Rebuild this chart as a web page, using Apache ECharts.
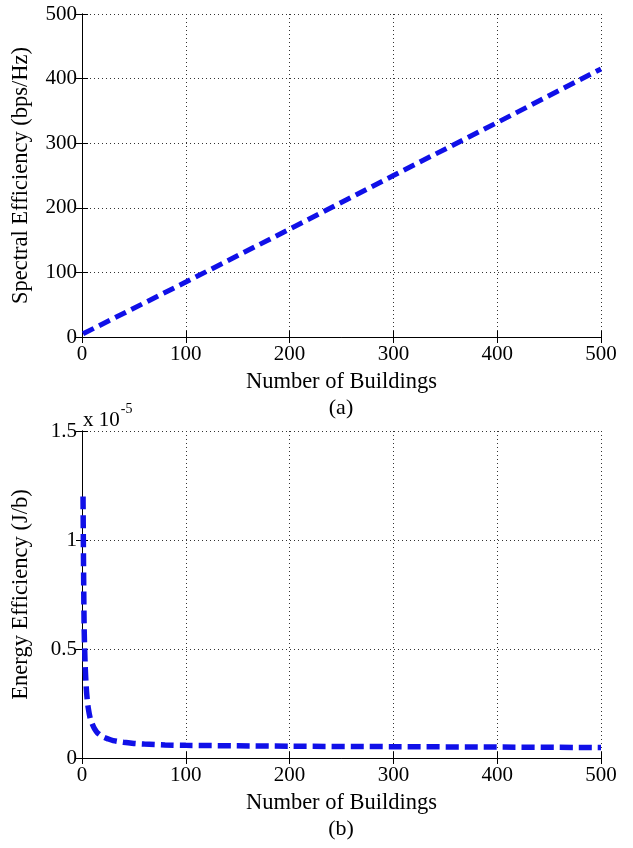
<!DOCTYPE html>
<html>
<head>
<meta charset="utf-8">
<script src="https://cdn.jsdelivr.net/npm/echarts@6/dist/echarts.min.js"></script>
<style>
  html, body { margin: 0; padding: 0; background: #fff; }
  #main { width: 633px; height: 848px; }
</style>
</head>
<body>
<div id="main"></div>
<script>
// (a) spectral efficiency vs number of buildings
const seBuildings = [1, 100, 200, 300, 400, 500];
const seValues = [5, 85, 167, 250, 332, 415];

// (b) energy efficiency, in units of 1e-5 J/b
const eeBuildings = [1, 2, 3, 4, 5, 6, 8, 10, 12, 15, 20, 25, 30, 40, 50, 60, 80, 100, 150, 200, 300, 400, 500];
const eeValues = [1.2, 0.62, 0.43, 0.33, 0.27, 0.23, 0.18, 0.155, 0.135, 0.115, 0.098, 0.088, 0.08, 0.072, 0.067, 0.064, 0.06, 0.058, 0.056, 0.054, 0.052, 0.05, 0.048];

const font = 'Liberation Serif';
const lineColor = '#1010e8';

const chart = echarts.init(document.getElementById('main'));

const splitDotted = { show: true, lineStyle: { color: '#333', type: [1, 3], width: 1 } };
const tick = { show: true, inside: true, length: 6, lineStyle: { color: '#000' } };
const label = { color: '#000', fontFamily: font, fontSize: 21 };
const nameStyle = { color: '#000', fontFamily: font, fontSize: 22.5 };

const mkX = (gridIndex) => ([
  {
    type: 'value', gridIndex, min: 0, max: 500, interval: 100,
    axisLine: { show: true, lineStyle: { color: '#000' } },
    axisTick: tick, axisLabel: { ...label, margin: 7 },
    splitLine: splitDotted,
    name: 'Number of Buildings', nameLocation: 'middle', nameGap: 34,
    nameTextStyle: nameStyle
  },
  {
    type: 'value', gridIndex, min: 0, max: 500, interval: 100, position: 'top',
    axisLine: { show: true, lineStyle: { color: '#000' } },
    axisTick: tick, axisLabel: { show: false }, splitLine: { show: false }
  }
]);

const mkY = (gridIndex, max, interval, name, gap) => ([
  {
    type: 'value', gridIndex, min: 0, max, interval,
    axisLine: { show: true, lineStyle: { color: '#000' } },
    axisTick: tick, axisLabel: { ...label, margin: 5 },
    splitLine: splitDotted,
    name, nameLocation: 'middle', nameGap: gap, nameRotate: 90,
    nameTextStyle: nameStyle
  },
  {
    type: 'value', gridIndex, min: 0, max, interval, position: 'right',
    axisLine: { show: true, lineStyle: { color: '#000' } },
    axisTick: tick, axisLabel: { show: false }, splitLine: { show: false }
  }
]);

const option = {
  backgroundColor: '#fff',
  animation: false,
  grid: [
    { left: 82, right: 32, top: 14, height: 323 },
    { left: 82, right: 32, top: 431, height: 327 }
  ],
  xAxis: [...mkX(0), ...mkX(1)],
  yAxis: [
    ...mkY(0, 500, 100, 'Spectral Efficiency (bps/Hz)', 49),
    ...mkY(1, 1.5, 0.5, 'Energy Efficiency (J/b)', 49)
  ],
  graphic: [
    { type: 'text', x: 341, y: 408, style: { text: '(a)', font: `22px "${font}"`, fill: '#000', align: 'center', verticalAlign: 'middle' } },
    { type: 'text', x: 341, y: 829, style: { text: '(b)', font: `22px "${font}"`, fill: '#000', align: 'center', verticalAlign: 'middle' } },
    {
      type: 'text', left: 83, top: 402,
      style: {
        text: '{b|x 10}{s|-5}',
        rich: {
          b: { fontFamily: font, fontSize: 21, fill: '#000', padding: [8, 0, 0, 0] },
          s: { fontFamily: font, fontSize: 14, fill: '#000', verticalAlign: 'top', padding: [0, 0, 10, 1] }
        }
      }
    }
  ],
  series: [
    {
      type: 'line', xAxisIndex: 0, yAxisIndex: 0,
      data: seBuildings.map((b, i) => [b, seValues[i]]),
      showSymbol: false,
      lineStyle: { color: lineColor, width: 5, type: [12, 6] }
    },
    {
      type: 'line', xAxisIndex: 2, yAxisIndex: 2,
      data: eeBuildings.map((b, i) => [b, eeValues[i]]),
      showSymbol: false, smooth: 0.3,
      lineStyle: { color: lineColor, width: 5.5, type: [13, 6] }
    }
  ]
};

chart.setOption(option);
</script>
</body>
</html>
